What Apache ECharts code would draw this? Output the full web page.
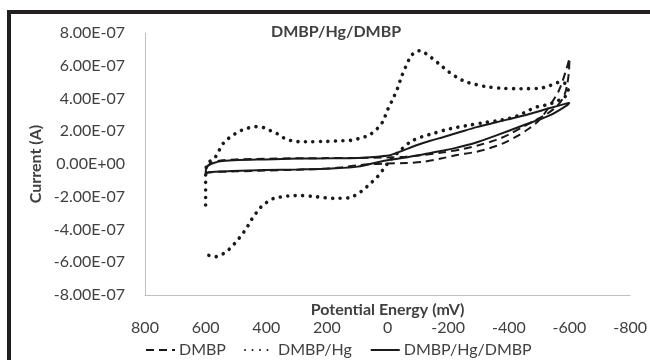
<!DOCTYPE html>
<html>
<head>
<meta charset="utf-8">
<script src="https://cdn.jsdelivr.net/npm/echarts@6/dist/echarts.min.js"></script>
<style>
  html, body { margin: 0; padding: 0; background: #fff; }
  #main { width: 650px; height: 360px; }
</style>
</head>
<body>
<div id="main"></div>
<script>
// potential in mV, current in units of 1e-7 A
const xTicks = [800, 600, 400, 200, 0, -200, -400, -600, -800];
const yTickLabels = ['-8.00E-07', '-6.00E-07', '-4.00E-07', '-2.00E-07', '0.00E+00',
  '2.00E-07', '4.00E-07', '6.00E-07', '8.00E-07'];

const dmbpX = [600, 590, 560, 500, 400, 300, 200, 150, 100, 50, 0, -60, -120, -180, -229, -280, -316,
  -350, -381, -424, -468, -501, -533, -566, -590, -600, -598, -592, -582, -562, -525, -480, -450,
  -400, -359, -300, -250, -180, -120, -60, 0, 100, 200, 300, 400, 500, 550, 575, 592, 600];
const dmbpY = [-0.6, -0.5, -0.48, -0.45, -0.4, -0.35, -0.28, -0.2, -0.08, 0.0, 0.03, 0.06, 0.14, 0.35,
  0.55, 0.7, 0.85, 1.05, 1.26, 1.67, 2.18, 2.69, 3.5, 4.52, 5.8, 6.45, 5.6, 4.8, 4.15, 3.6, 3.05, 2.6,
  2.3, 1.8, 1.47, 1.15, 0.92, 0.7, 0.55, 0.45, 0.4, 0.37, 0.36, 0.35, 0.32, 0.28, 0.22, 0.1, -0.1, -0.4];

const hgX = [600, 600, 600, 598, 590, 571, 558, 542, 528, 506, 484, 463, 435, 408, 386, 362, 340, 316,
  288, 261, 200, 150, 120, 92, 60, 33, 16, 0, -16, -33, -46, -60, -76, -92, -109, -125, -147, -174,
  -201, -229, -256, -288, -327, -380, -440, -500, -530, -555, -578, -592, -596, -585, -560, -540,
  -522, -495, -468, -435, -403, -359, -315, -272, -229, -190, -152, -114, -76, -43, -20, 0, 15, 33,
  60, 85, 110, 125, 180, 234, 288, 316, 343, 370, 392, 414, 430, 446, 459, 473, 490, 506, 525, 544,
  568, 593];
const hgY = [-2.5, -1.6, -0.8, -0.2, 0.1, 0.35, 0.75, 1.26, 1.51, 1.81, 2.04, 2.18, 2.28, 2.22, 2.04,
  1.83, 1.57, 1.42, 1.36, 1.36, 1.38, 1.42, 1.45, 1.57, 1.77, 2.18, 2.58, 3.3, 3.91, 4.62, 5.33, 5.94,
  6.55, 6.86, 6.92, 6.76, 6.46, 6.05, 5.64, 5.29, 5.03, 4.87, 4.72, 4.62, 4.6, 4.62, 4.75, 4.95, 5.0,
  4.75, 4.45, 4.1, 3.85, 3.7, 3.6, 3.5, 3.3, 2.99, 2.79, 2.64, 2.52, 2.38, 2.24, 2.08, 1.87, 1.67, 1.36,
  0.85, 0.45, 0.04, -0.35, -0.77, -1.25, -1.65, -1.95, -2.06, -2.1, -2.0, -1.93, -1.93, -2.0, -2.06,
  -2.26, -2.56, -2.91, -3.32, -3.73, -4.13, -4.54, -4.89, -5.25, -5.5, -5.66, -5.56];

const hgDmbpX = [600, 599, 594, 588, 571, 544, 490, 403, 294, 185, 98, 33, -11, -54, -98, -141, -185,
  -239, -294, -359, -446, -533, -600, -593, -533, -446, -359, -290, -229, -185, -120, -54, 11, 98,
  185, 294, 403, 512, 571, 600];
const hgDmbpY = [-0.7, -0.35, -0.15, -0.06, 0.08, 0.18, 0.24, 0.28, 0.33, 0.35, 0.37, 0.45, 0.55, 0.85,
  1.16, 1.42, 1.65, 1.95, 2.25, 2.55, 2.95, 3.4, 3.75, 3.6, 2.95, 2.35, 1.75, 1.3, 1.0, 0.82, 0.6, 0.38,
  0.2, -0.16, -0.27, -0.33, -0.37, -0.43, -0.47, -0.55];

function pairs(xs, ys) {
  return xs.map((x, i) => [x, ys[i]]);
}

const font = 'Lato, "Open Sans", sans-serif';
const ink = '#1a1a1a';
const textColor = '#404040';

const chart = echarts.init(document.getElementById('main'));

chart.setOption({
  animation: false,
  backgroundColor: '#fff',
  textStyle: { fontFamily: font },
  title: {
    text: 'DMBP/Hg/DMBP',
    left: 271,
    top: 24,
    padding: 0,
    textStyle: { fontFamily: font, fontSize: 16, fontWeight: 'bold', color: textColor }
  },
  graphic: [{
    type: 'rect',
    shape: { x: 9, y: 12, width: 700, height: 400 },
    style: { fill: 'none', stroke: '#231f20', lineWidth: 4 },
    silent: true
  }],
  legend: {
    data: ['DMBP', 'DMBP/Hg', 'DMBP/Hg/DMBP'],
    left: 145,
    top: 342,
    itemWidth: 29,
    itemHeight: 10,
    itemGap: 18,
    padding: 0,
    itemStyle: { opacity: 0 },
    textStyle: { fontFamily: font, fontSize: 16, color: textColor, padding: [0, 0, 0, -1] }
  },
  grid: { left: 145, right: 15, top: 33, bottom: 65 },
  xAxis: {
    type: 'value',
    inverse: true,
    min: -800,
    max: 800,
    interval: 200,
    name: 'Potential Energy (mV)',
    nameLocation: 'middle',
    nameGap: 7,
    nameMoveOverlap: false,
    nameTextStyle: { fontFamily: font, fontSize: 16, fontWeight: 'bold', color: textColor, verticalAlign: 'top' },
    axisLine: { onZero: false, lineStyle: { color: '#bfbfbf', width: 1 } },
    axisTick: { show: false },
    splitLine: { show: false },
    axisLabel: {
      margin: 25,
      fontFamily: font,
      fontSize: 16,
      color: textColor,
      formatter: v => String(xTicks[xTicks.indexOf(v)])
    }
  },
  yAxis: {
    type: 'value',
    min: -8,
    max: 8,
    interval: 2,
    name: 'Current (A)',
    nameLocation: 'middle',
    nameGap: 101,
    nameMoveOverlap: false,
    nameTextStyle: { fontFamily: font, fontSize: 16, fontWeight: 'bold', color: textColor },
    axisLine: { show: true, onZero: false, lineStyle: { color: '#bfbfbf', width: 1 } },
    axisTick: { show: false },
    splitLine: { show: false },
    axisLabel: {
      margin: 20,
      fontFamily: font,
      fontSize: 16,
      color: textColor,
      formatter: v => yTickLabels[Math.round(v / 2) + 4]
    }
  },
  series: [
    {
      name: 'DMBP',
      type: 'line',
      data: pairs(dmbpX, dmbpY),
      smooth: 0.3,
      showSymbol: false,
      symbol: 'none',
      color: ink,
      lineStyle: { color: ink, width: 2, type: [8, 5] }
    },
    {
      name: 'DMBP/Hg',
      type: 'line',
      data: pairs(hgX, hgY),
      smooth: 0.3,
      showSymbol: false,
      symbol: 'none',
      color: ink,
      lineStyle: { color: ink, width: 3.6, type: [0.01, 7.5], cap: 'round' }
    },
    {
      name: 'DMBP/Hg/DMBP',
      type: 'line',
      data: pairs(hgDmbpX, hgDmbpY),
      smooth: 0.3,
      showSymbol: false,
      symbol: 'none',
      color: ink,
      lineStyle: { color: ink, width: 2, type: 'solid' }
    }
  ]
});
</script>
</body>
</html>
